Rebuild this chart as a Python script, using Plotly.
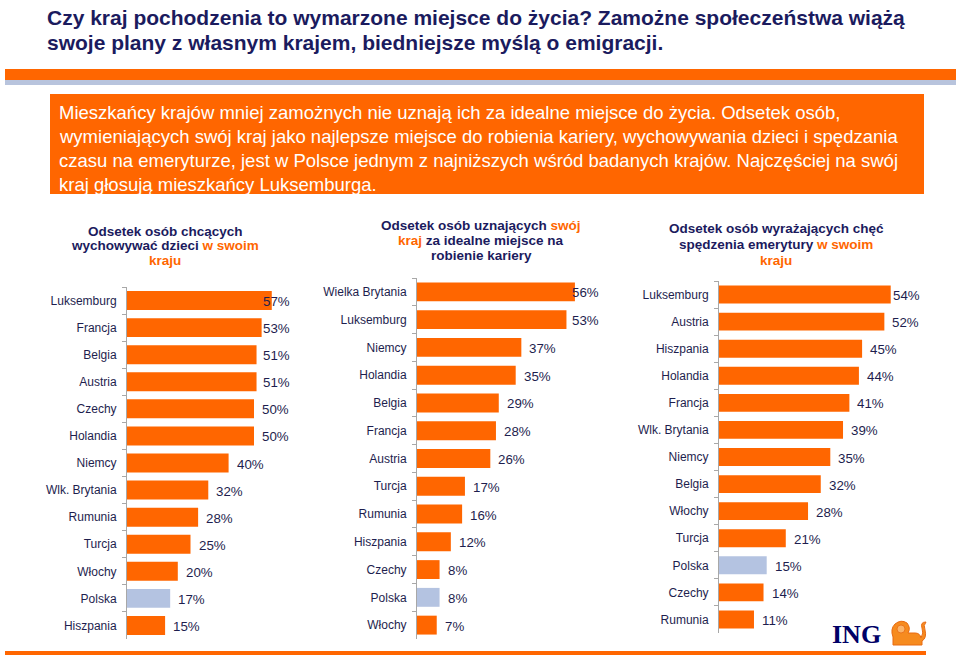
import plotly.graph_objects as go

# ---------------- data ----------------
cats1 = ["Luksemburg", "Francja", "Belgia", "Austria", "Czechy", "Holandia", "Niemcy",
         "Wlk. Brytania", "Rumunia", "Turcja", "Włochy", "Polska", "Hiszpania"]
vals1 = [57, 53, 51, 51, 50, 50, 40, 32, 28, 25, 20, 17, 15]

cats2 = ["Wielka Brytania", "Luksemburg", "Niemcy", "Holandia", "Belgia", "Francja", "Austria",
         "Turcja", "Rumunia", "Hiszpania", "Czechy", "Polska", "Włochy"]
vals2 = [56, 53, 37, 35, 29, 28, 26, 17, 16, 12, 8, 8, 7]

cats3 = ["Luksemburg", "Austria", "Hiszpania", "Holandia", "Francja", "Wlk. Brytania", "Niemcy",
         "Belgia", "Włochy", "Turcja", "Polska", "Czechy", "Rumunia"]
vals3 = [54, 52, 45, 44, 41, 39, 35, 32, 28, 21, 15, 14, 11]

title_lines = ["Czy kraj pochodzenia to wymarzone miejsce do życia? Zamożne społeczeństwa wiążą",
               "swoje plany z własnym krajem, biedniejsze myślą o emigracji."]
box_lines = ["Mieszkańcy krajów mniej zamożnych nie uznają ich za idealne miejsce do życia. Odsetek osób,",
             "wymieniających swój kraj jako najlepsze miejsce do robienia kariery, wychowywania dzieci i spędzania",
             "czasu na emeryturze, jest w Polsce jednym z najniższych wśród badanych krajów. Najczęściej na swój",
             "kraj głosują mieszkańcy Luksemburga."]

# chart headers: list of lines, each line a list of (text, is_orange)
headers = [
    [[("Odsetek osób chcących", False)],
     [("wychowywać dzieci ", False), ("w swoim", True)],
     [("kraju", True)]],
    [[("Odsetek osób uznających ", False), ("swój", True)],
     [("kraj", True), (" za idealne miejsce na", False)],
     [("robienie kariery", False)]],
    [[("Odsetek osób wyrażających chęć", False)],
     [("spędzenia emerytury ", False), ("w swoim", True)],
     [("kraju", True)]],
]

ORANGE = "#FF6600"
HILITE = "#B4C3E1"
NAVY = "#1B1B5E"
TXT = "#1E1E4E"
W, H = 960, 658
SANS = "Liberation Sans, Arial, sans-serif"


def px_x(p):
    return p / W


def px_y(p):
    return 1 - p / H


# chart geometry in pixels: axis x, px per %, top y, bottom y, bar width, label cap, header pos
charts = [
    dict(cats=cats1, vals=vals1, ax=127, ppu=2.54, top=287, bot=639, bw=0.70, cap=50.4,
         hx=165, hy=[231, 245.5, 260]),
    dict(cats=cats2, vals=vals2, ax=417, ppu=2.82, top=278, bot=639, bw=0.68, cap=52.1,
         hx=481, hy=[225, 240, 255.5]),
    dict(cats=cats3, vals=vals3, ax=719, ppu=3.18, top=281, bot=633, bw=0.66, cap=52.2,
         hx=776, hy=[228, 244, 260]),
]
XMAX = 60

fig = go.Figure()
annotations = []
layout_axes = {}

for i, c in enumerate(charts, start=1):
    xa = "x" if i == 1 else f"x{i}"
    ya = "y" if i == 1 else f"y{i}"
    colors = [HILITE if k == "Polska" else ORANGE for k in c["cats"]]
    fig.add_trace(go.Bar(
        x=c["vals"], y=c["cats"], orientation="h", width=c["bw"],
        marker=dict(color=colors, line=dict(width=0)),
        xaxis=xa, yaxis=ya, showlegend=False, hoverinfo="skip"))
    xkey = "xaxis" if i == 1 else f"xaxis{i}"
    ykey = "yaxis" if i == 1 else f"yaxis{i}"
    layout_axes[xkey] = dict(
        domain=[px_x(c["ax"]), px_x(c["ax"] + XMAX * c["ppu"])],
        range=[0, XMAX], visible=False, anchor=ya, fixedrange=True)
    layout_axes[ykey] = dict(
        domain=[px_y(c["bot"]), px_y(c["top"])],
        type="category", categoryorder="array", categoryarray=c["cats"],
        range=[len(c["cats"]) - 0.5, -0.5],
        anchor=xa, showline=True, linecolor="#A8A8A8", linewidth=1,
        ticks="outside", tickson="boundaries", ticklen=4, tickcolor="#A8A8A8",
        ticklabelstandoff=7, showgrid=False, zeroline=False,
        tickfont=dict(family=SANS, size=12, color=TXT),
        fixedrange=True)
    for k, v in zip(c["cats"], c["vals"]):
        annotations.append(dict(
            x=min(v, c["cap"]), y=k, xref=xa, yref=ya, text=f"{v}%",
            xanchor="left", yanchor="middle", xshift=6, yshift=-1, showarrow=False,
            font=dict(family=SANS, size=13.3, color=TXT)))
    for line, yy in zip(headers[i - 1], c["hy"]):
        txt = "".join(f"<span style='color:{ORANGE}'>{t}</span>" if o else t for t, o in line)
        annotations.append(dict(x=c["hx"], y=yy, xref="x4", yref="y4", text=f"<b>{txt}</b>",
                                xanchor="center", yanchor="middle", showarrow=False,
                                font=dict(family=SANS, size=13.5, color=NAVY)))

# helper pixel axis spanning the full page for decorations
layout_axes["xaxis4"] = dict(domain=[0, 1], range=[0, W], visible=False, anchor="y4", fixedrange=True)
layout_axes["yaxis4"] = dict(domain=[0, 1], range=[H, 0], visible=False, anchor="x4", fixedrange=True)
fig.add_trace(go.Scatter(x=[0], y=[0], xaxis="x4", yaxis="y4", mode="markers",
                         marker=dict(opacity=0), showlegend=False, hoverinfo="skip"))

shapes = [
    dict(type="rect", xref="x4", yref="y4", x0=5, x1=956, y0=69, y1=80, fillcolor=ORANGE, line=dict(width=0), layer="below"),
    dict(type="rect", xref="x4", yref="y4", x0=5, x1=956, y0=80, y1=85, fillcolor="#B8C4DD", line=dict(width=0), layer="below"),
    dict(type="rect", xref="x4", yref="y4", x0=50, x1=924, y0=94, y1=194, fillcolor=ORANGE, line=dict(width=0), layer="below"),
    dict(type="rect", xref="x4", yref="y4", x0=5, x1=926, y0=651, y1=655, fillcolor=ORANGE, line=dict(width=0), layer="below"),
    # lion (ING logo)
    dict(type="path", xref="x4", yref="y4",
         path="M 893 645 L 893 637 Q 890 629 895 624 Q 901 619 907 623 Q 911 628 908 633 "
              "L 915 633 Q 920 633 921 638 Q 924 633 922 628 Q 920 622 926 622 Q 923 625 925 630 "
              "Q 927 638 922 641 L 922 645 Z",
         fillcolor="#F68B1F", line=dict(color="#E86A10", width=1)),
    dict(type="circle", xref="x4", yref="y4", x0=897, x1=905, y0=625, y1=633,
         fillcolor="#FBB46A", line=dict(color="#E86A10", width=0.8)),
]

for j, line in enumerate(title_lines):
    annotations.append(dict(x=45, y=17 + 25 * j, xref="x4", yref="y4", text=f"<b>{line}</b>",
                            xanchor="left", yanchor="middle", showarrow=False,
                            font=dict(family=SANS, size=21, color=NAVY)))
for j, line in enumerate(box_lines):
    annotations.append(dict(x=57, y=112.5 + 24 * j, xref="x4", yref="y4", text=line,
                            xanchor="left", yanchor="middle", showarrow=False,
                            font=dict(family=SANS, size=18.5, color="white")))

annotations.append(dict(x=856, y=634, xref="x4", yref="y4", text="<b>ING</b>", xanchor="center",
                        yanchor="middle", showarrow=False,
                        font=dict(family="Liberation Serif, Times New Roman, serif", size=26, color="#000066")))

fig.update_layout(width=W, height=H, margin=dict(l=0, r=0, t=0, b=0),
                  paper_bgcolor="white", plot_bgcolor="rgba(0,0,0,0)",
                  bargap=0.3, shapes=shapes, annotations=annotations, **layout_axes)

fig.write_html("out.html", config={"displayModeBar": False},
               post_script="document.body.style.margin='0px';document.body.style.overflow='hidden';")
